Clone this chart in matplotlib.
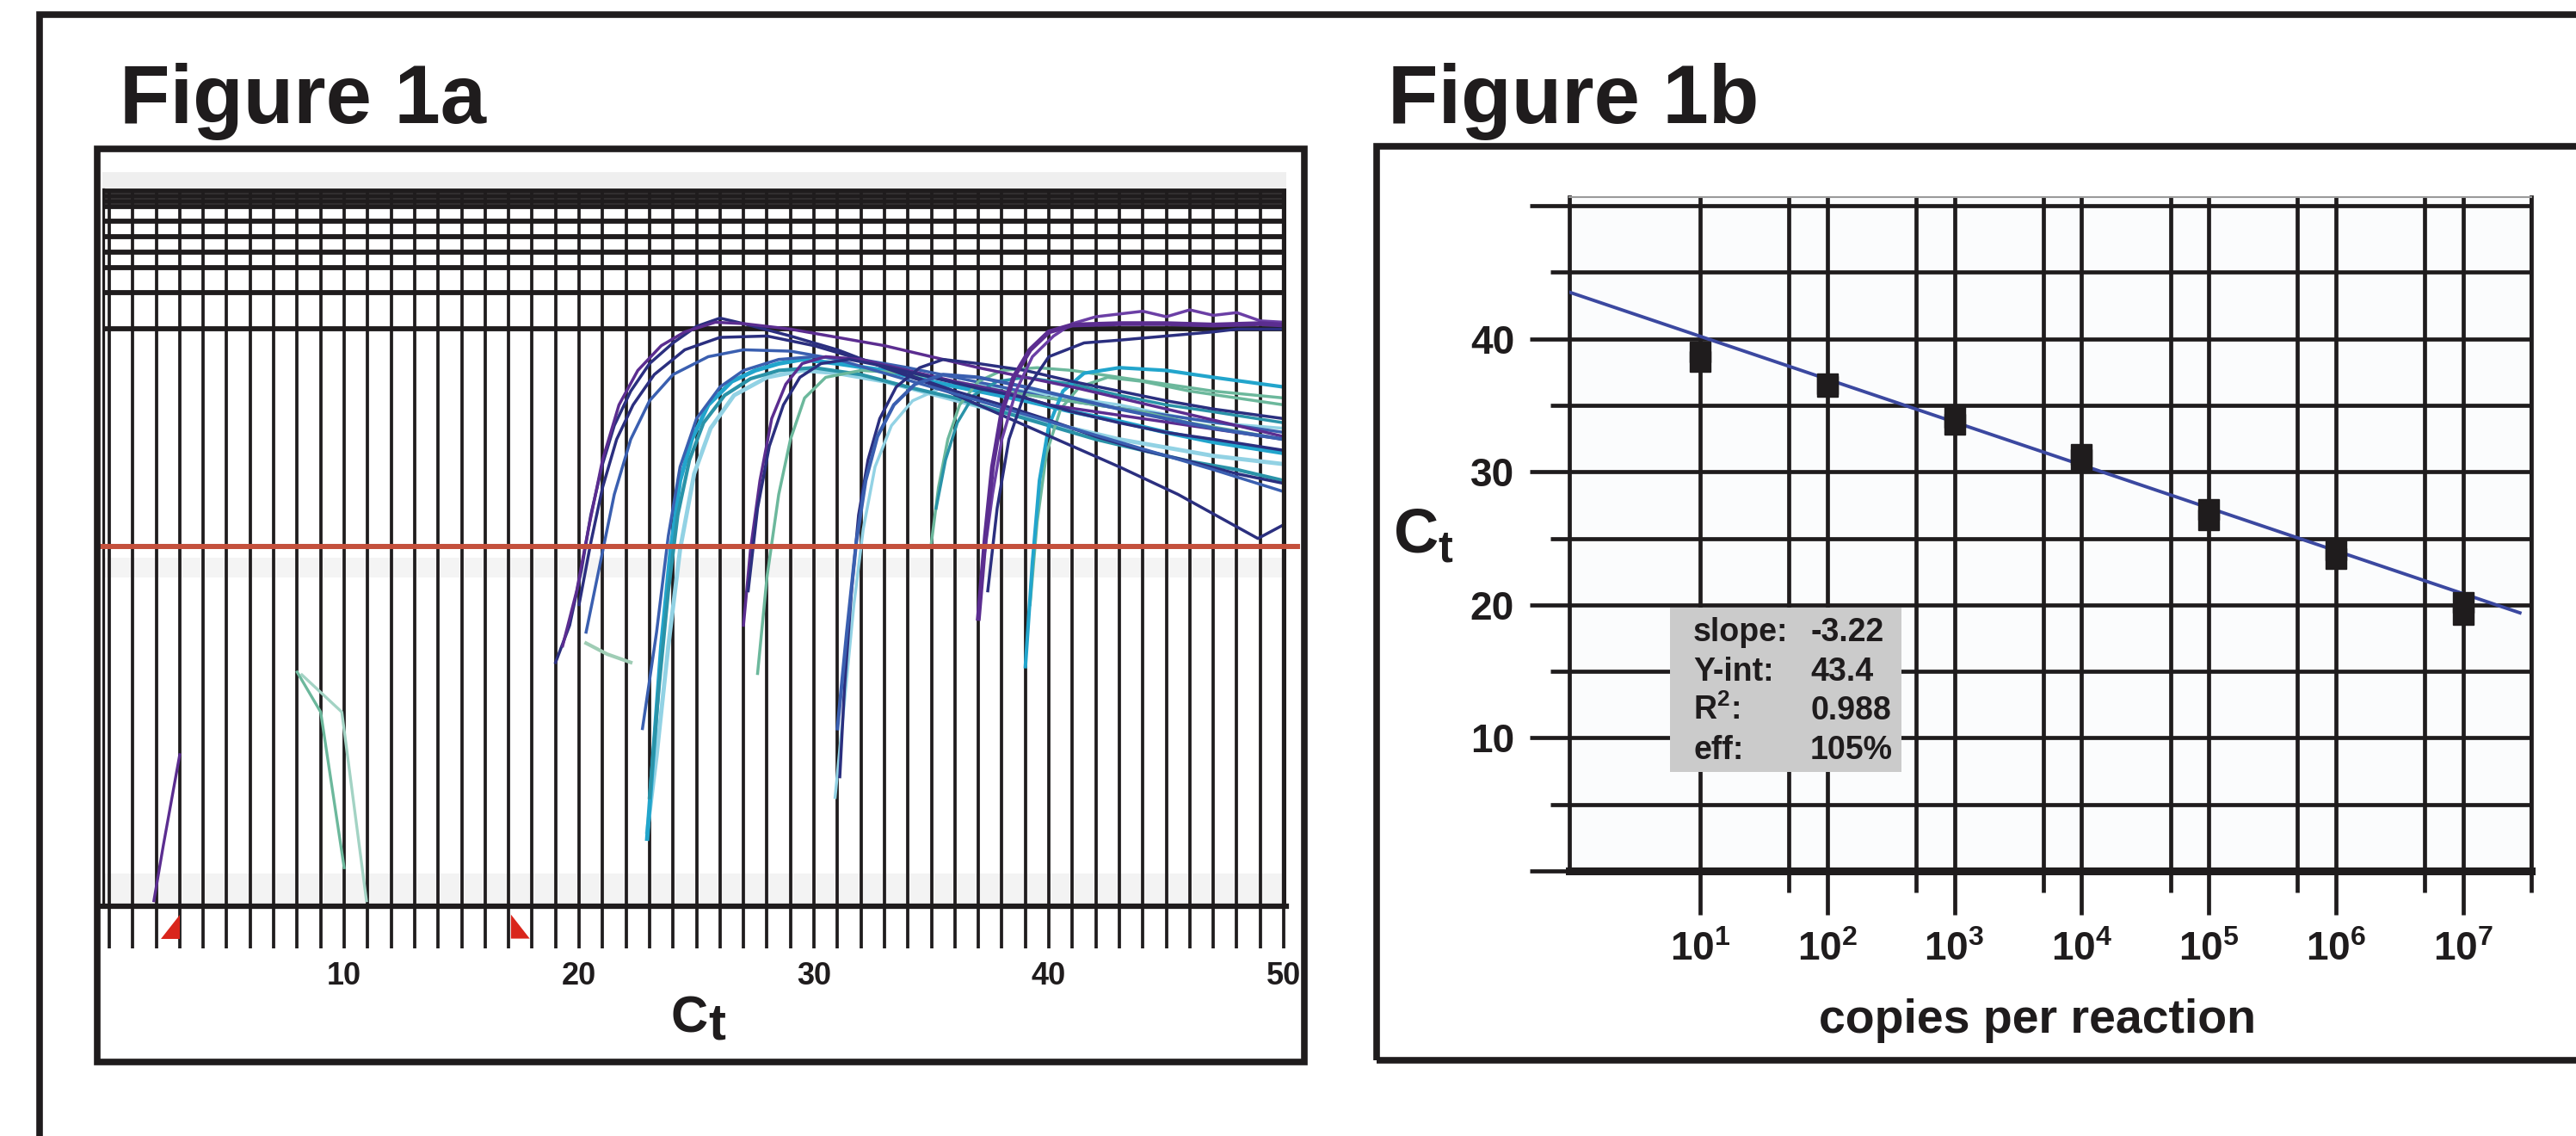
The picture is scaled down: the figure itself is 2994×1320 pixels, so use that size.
#!/usr/bin/env python3
"""
Figure 1: real-time PCR amplification plot (1a) and standard curve (1b).
"""

import matplotlib
matplotlib.use("Agg")
import matplotlib.pyplot as plt
from matplotlib.patches import Rectangle, Polygon
from matplotlib.ticker import FixedLocator, FixedFormatter, NullFormatter

W, H, DPI = 2994, 1320, 100
INK = "#1f1c1d"

plt.rcParams["font.family"] = ["Liberation Sans", "DejaVu Sans"]
plt.rcParams["font.weight"] = "bold"
plt.rcParams["mathtext.fontset"] = "custom"
plt.rcParams["mathtext.rm"] = "Liberation Sans:bold"
plt.rcParams["mathtext.it"] = "Liberation Sans:bold"
plt.rcParams["mathtext.bf"] = "Liberation Sans:bold"
plt.rcParams["mathtext.default"] = "rm"

# ---------------- Figure 1a: cycle vs log10(dRn) ----------------
cycles = list(range(0, 51))
cycle_labels = [10, 20, 30, 40, 50]
rn_grid = [0.0, 0.2625, 0.444, 0.556, 0.669, 0.781, 0.8875, 0.925, 0.9625, 1.0]
rn_threshold = -1.58
baseline_cycles = (3.0, 17.1)

curve_n1 = [(1.9, -4.15), (2.3, -3.75), (3.0, -3.09)]
curve_n2 = [(8.0, -2.49), (9.0, -2.78), (10.0, -3.91)]
curve_n3 = [(8.2, -2.51), (9.9, -2.78), (10.95, -4.15)]

curve_a1 = [(19.0, -2.42), (19.6, -2.15), (20.1, -1.75), (20.5, -1.35), (21.0, -0.98),
            (21.5, -0.7), (22.2, -0.45), (23.0, -0.25), (24.0, -0.1), (25.0, 0.02),
            (26.0, 0.08), (27.0, 0.04), (29.0, -0.05), (31.0, -0.15), (33.0, -0.28),
            (35.0, -0.4), (37.0, -0.55), (39.0, -0.7), (41.0, -0.85), (43.0, -1.0),
            (45.5, -1.2), (48.9, -1.52), (50.0, -1.42)]
curve_a2 = [(19.3, -2.3), (19.9, -1.9), (20.4, -1.45), (21.0, -0.95), (21.7, -0.55),
            (22.5, -0.3), (23.5, -0.12), (24.5, -0.02), (25.8, 0.05), (27.0, 0.04),
            (29.0, 0.0), (31.0, -0.06), (33.0, -0.12), (35.0, -0.2), (37.0, -0.28),
            (39.0, -0.35), (41.0, -0.42), (43.0, -0.5), (45.0, -0.58), (47.0, -0.66),
            (50.0, -0.78)]
curve_a3 = [(20.0, -2.0), (20.5, -1.55), (21.0, -1.15), (21.6, -0.8), (22.3, -0.55),
            (23.2, -0.33), (24.5, -0.15), (26.0, -0.06), (28.0, -0.05), (30.0, -0.12),
            (32.0, -0.22), (34.0, -0.33), (36.0, -0.45), (38.0, -0.55), (40.0, -0.66),
            (42.0, -0.78), (44.0, -0.88), (46.0, -0.96), (48.0, -1.05), (50.0, -1.12)]
curve_a4 = [(20.3, -2.2), (20.9, -1.7), (21.5, -1.2), (22.2, -0.8), (23.0, -0.52),
            (24.0, -0.33), (25.5, -0.2), (27.0, -0.15), (29.0, -0.16), (31.0, -0.22),
            (33.0, -0.32), (35.0, -0.42), (37.0, -0.52), (39.0, -0.62), (41.0, -0.72),
            (43.0, -0.82), (45.0, -0.92), (47.0, -1.02), (50.0, -1.18)]
curve_a5 = [(20.3, -2.28), (21.2, -2.36), (22.2, -2.42)]

curve_b1 = [(22.9, -3.7), (23.2, -3.0), (23.5, -2.3), (23.9, -1.6), (24.3, -1.1),
            (24.8, -0.8), (25.5, -0.55), (26.5, -0.38), (27.5, -0.3), (28.5, -0.25),
            (29.5, -0.22), (31.0, -0.25), (33.0, -0.3), (35.0, -0.38), (37.0, -0.45),
            (39.0, -0.52), (41.0, -0.6), (43.0, -0.67), (45.0, -0.75), (47.0, -0.82),
            (50.0, -0.9)]
curve_b2 = [(23.0, -3.4), (23.4, -2.6), (23.8, -1.9), (24.2, -1.35), (24.7, -0.95),
            (25.3, -0.68), (26.2, -0.48), (27.3, -0.36), (28.5, -0.3), (30.0, -0.28),
            (32.0, -0.33), (34.0, -0.42), (36.0, -0.5), (38.0, -0.6), (40.0, -0.7),
            (42.0, -0.8), (44.0, -0.88), (46.0, -0.96), (48.0, -1.02), (50.0, -1.1)]
curve_b3 = [(22.7, -2.9), (23.3, -2.2), (23.8, -1.5), (24.3, -1.0), (25.0, -0.65),
            (26.0, -0.42), (27.0, -0.3), (28.5, -0.22), (30.0, -0.2), (32.0, -0.22),
            (34.0, -0.28), (36.0, -0.35), (38.0, -0.42), (40.0, -0.5), (42.0, -0.55),
            (44.0, -0.6), (46.0, -0.65), (48.0, -0.7), (50.0, -0.75)]
curve_b4 = [(22.9, -3.65), (23.3, -3.1), (23.8, -2.3), (24.3, -1.6), (24.9, -1.05),
            (25.6, -0.72), (26.6, -0.48), (28.0, -0.35), (29.5, -0.3), (31.0, -0.32),
            (33.0, -0.38), (35.0, -0.47), (37.0, -0.56), (39.0, -0.64), (41.0, -0.72),
            (43.0, -0.8), (45.0, -0.86), (47.0, -0.92), (50.0, -0.98)]

curve_c1 = [(27.0, -2.15), (27.3, -1.6), (27.7, -1.1), (28.2, -0.65), (28.8, -0.4),
            (29.5, -0.25), (30.5, -0.2), (32.0, -0.22), (34.0, -0.3), (36.0, -0.38),
            (38.0, -0.45), (40.0, -0.55), (42.0, -0.6), (44.0, -0.65), (46.0, -0.7),
            (48.0, -0.75), (50.0, -0.8)]
curve_c2 = [(27.2, -1.9), (27.6, -1.3), (28.1, -0.85), (28.7, -0.55), (29.4, -0.35),
            (30.3, -0.25), (31.5, -0.22), (33.0, -0.27), (35.0, -0.35), (37.0, -0.43),
            (39.0, -0.5), (41.0, -0.6), (43.0, -0.68), (45.0, -0.75), (47.0, -0.8),
            (50.0, -0.88)]
curve_c3 = [(27.6, -2.5), (28.0, -1.8), (28.5, -1.2), (29.0, -0.8), (29.6, -0.5),
            (30.5, -0.35), (32.0, -0.3), (34.0, -0.32), (36.0, -0.38), (38.0, -0.45),
            (40.0, -0.5), (42.0, -0.55), (44.0, -0.6), (46.0, -0.68), (48.0, -0.74),
            (50.0, -0.8)]

curve_d1 = [(31.1, -3.25), (31.3, -2.6), (31.6, -1.9), (31.9, -1.35), (32.3, -0.95),
            (32.8, -0.65), (33.5, -0.42), (34.5, -0.28), (35.5, -0.22), (37.0, -0.25),
            (39.0, -0.3), (41.0, -0.38), (43.0, -0.45), (45.0, -0.52), (47.0, -0.58),
            (50.0, -0.65)]
curve_d2 = [(31.0, -2.9), (31.4, -2.2), (31.8, -1.55), (32.2, -1.1), (32.7, -0.78),
            (33.4, -0.55), (34.3, -0.4), (35.5, -0.33), (37.0, -0.35), (39.0, -0.42),
            (41.0, -0.5), (43.0, -0.58), (45.0, -0.65), (47.0, -0.72), (50.0, -0.8)]
curve_d3 = [(30.9, -3.4), (31.3, -2.7), (31.7, -2.0), (32.1, -1.45), (32.6, -1.0),
            (33.3, -0.7), (34.2, -0.52), (35.5, -0.42), (37.0, -0.4), (39.0, -0.45),
            (41.0, -0.5), (43.0, -0.55), (45.0, -0.62), (47.0, -0.68), (50.0, -0.72)]

curve_e1 = [(35.0, -1.55), (35.3, -1.15), (35.7, -0.8), (36.2, -0.55), (37.0, -0.38),
            (38.0, -0.3), (39.5, -0.28), (41.0, -0.3), (43.0, -0.35), (45.0, -0.4),
            (47.0, -0.45), (50.0, -0.5)]
curve_e2 = [(35.2, -1.3), (35.6, -0.95), (36.1, -0.68), (36.8, -0.48), (37.8, -0.38),
            (39.0, -0.35), (41.0, -0.4), (43.0, -0.48), (45.0, -0.55), (47.0, -0.6),
            (50.0, -0.68)]

curve_f1 = [(37.0, -2.1), (37.3, -1.5), (37.6, -1.0), (38.0, -0.6), (38.5, -0.35),
            (39.2, -0.15), (40.0, -0.02), (41.0, 0.03), (43.0, 0.04), (45.0, 0.04),
            (47.0, 0.03), (49.0, 0.04), (50.0, 0.03)]
curve_f2 = [(37.2, -1.7), (37.6, -1.2), (38.0, -0.8), (38.6, -0.45), (39.3, -0.2),
            (40.2, -0.05), (41.0, 0.04), (42.0, 0.09), (43.0, 0.11), (44.0, 0.13),
            (45.0, 0.09), (46.0, 0.14), (47.0, 0.1), (48.0, 0.12), (49.0, 0.06),
            (50.0, 0.05)]
curve_f3 = [(37.4, -1.9), (37.8, -1.3), (38.3, -0.8), (39.0, -0.45), (40.0, -0.2),
            (41.5, -0.1), (43.0, -0.08), (45.0, -0.05), (47.0, -0.02), (48.0, 0.0),
            (50.0, 0.0)]

curve_g1 = [(39.0, -2.45), (39.3, -1.7), (39.6, -1.1), (40.0, -0.7), (40.6, -0.45),
            (41.5, -0.32), (43.0, -0.28), (45.0, -0.3), (47.0, -0.35), (50.0, -0.42)]
curve_g2 = [(39.2, -2.0), (39.5, -1.4), (39.9, -0.9), (40.5, -0.58), (41.3, -0.42),
            (42.5, -0.35), (44.0, -0.38), (46.0, -0.45), (48.0, -0.5), (50.0, -0.55)]

# ---------------- Figure 1b: standard curve ----------------
copies = [1e1, 1e2, 1e3, 1e4, 1e5, 1e6, 1e7]
copy_labels = [r"$10^{1}$", r"$10^{2}$", r"$10^{3}$", r"$10^{4}$",
               r"$10^{5}$", r"$10^{6}$", r"$10^{7}$"]
half_decades = [5e1, 5e2, 5e3, 5e4, 5e5, 5e6]
ct_rep1 = [39.0, 36.6, 34.1, 31.3, 27.2, 24.1, 20.2]
ct_rep2 = [38.3, 36.4, 33.6, 30.9, 26.4, 23.5, 19.3]
fit_copies = [0.94, 2.8e7]
fit_ct = [43.5, 19.4]
ct_major = [0, 10, 20, 30, 40, 50]
ct_minor = [5, 15, 25, 35, 45]
ct_labels = ["", "10", "20", "30", "40", ""]
stat_names = ["slope:", "Y-int:", r"R$^{2}$:", "eff:"]
stat_values = ["-3.22", "43.4", "0.988", "105%"]

NAVY = "#2b2f7f"
PURPLE = "#5b2d90"
BLUE = "#3a5fb0"
CYAN = "#22a5cc"
TEAL = "#2a93a8"
GREEN = "#6cb89c"
PALE = "#92d2e4"


def fx(x):
    return x / W


def fy(y):
    return 1 - y / H


def rect(x0, y0, x1, y1):
    return [fx(x0), fy(y1), fx(x1) - fx(x0), fy(y0) - fy(y1)]


def frame(fig, x0, y0, x1, y1, **kw):
    fig.add_artist(Rectangle((fx(x0), fy(y1)), fx(x1) - fx(x0), fy(y0) - fy(y1),
                             transform=fig.transFigure, fill=False, ec=INK,
                             lw=5.5, **kw))


fig = plt.figure(figsize=(W / DPI, H / DPI), dpi=DPI)
fig.patch.set_facecolor("white")

# frames
frame(fig, 46, 17, 3200, 1500)
frame(fig, 113, 173, 1516, 1234)
frame(fig, 1600, 170, 3200, 1232)

fig.text(fx(139), fy(143), "Figure 1a", fontsize=69, fontweight="bold",
         ha="left", va="baseline", color=INK)
fig.text(fx(1613), fy(143), "Figure 1b", fontsize=69, fontweight="bold",
         ha="left", va="baseline", color=INK)

# ---------------- panel 1a ----------------
ax1 = fig.add_axes(rect(118.8, 200, 1494.8, 1053))
x_lo, x_hi = -0.3, 50.1
y_lo, y_hi = -4.19, 1.14
ax1.set_xlim(x_lo, x_hi)
ax1.set_ylim(y_lo, y_hi)

# scanned-in speckle bands
ax1.axhspan(rn_grid[-1], y_hi, color="#efefef", lw=0, zorder=0)
ax1.axhspan(y_lo, -3.95, color="#f3f3f3", lw=0, zorder=0)
ax1.axhspan(-1.8, -1.66, color="#f4f4f4", lw=0, zorder=0)

ax1.vlines(cycles, y_lo, rn_grid[-1], color=INK, lw=2.7, zorder=1)
ax1.hlines(rn_grid, x_lo, x_hi, color=INK, lw=4.2, zorder=1)

curves_1a = [
    (curve_n1, PURPLE, 2.4), (curve_n2, GREEN, 2.4), (curve_n3, "#a3d3c4", 2.4),
    (curve_a5, "#9fcdb5", 3.0),
    (curve_b4, PALE, 3.5), (curve_d3, PALE, 2.5),
    (curve_b1, CYAN, 3.6), (curve_b2, TEAL, 3.0), (curve_b3, BLUE, 2.5),
    (curve_c3, GREEN, 2.5), (curve_e1, GREEN, 2.5), (curve_g2, GREEN, 2.5),
    (curve_e2, TEAL, 2.5), (curve_g1, CYAN, 3.0),
    (curve_a1, NAVY, 2.5), (curve_a2, PURPLE, 2.5), (curve_a3, NAVY, 2.5),
    (curve_a4, BLUE, 2.5),
    (curve_c1, PURPLE, 2.5), (curve_c2, NAVY, 2.5),
    (curve_d1, NAVY, 2.5), (curve_d2, BLUE, 3.0),
    (curve_f3, NAVY, 2.5), (curve_f2, "#6b3fa5", 2.5), (curve_f1, PURPLE, 4.0),
]
for pts, color, lw in curves_1a:
    xs = [p[0] for p in pts]
    ys = [p[1] for p in pts]
    ax1.plot(xs, ys, color=color, lw=lw, solid_joinstyle="round", zorder=2)

ax1.plot([x_lo, 50.6], [rn_threshold, rn_threshold], color="#c4503c", lw=4.3,
         clip_on=False, zorder=5)

# baseline start / end markers below the axis
c0, c1 = baseline_cycles
tri_top, tri_bot = -4.25, -4.425
for verts in ([(c0 - 0.8, tri_bot), (c0, tri_bot), (c0, tri_top)],
              [(c1, tri_bot), (c1 + 0.8, tri_bot), (c1, tri_top)]):
    ax1.add_patch(Polygon(verts, closed=True, fc="#d9261c", ec="none",
                          clip_on=False, zorder=5))

for side in ("top", "left", "right"):
    ax1.spines[side].set_visible(False)
ax1.spines["bottom"].set_linewidth(4.5)
ax1.spines["bottom"].set_color(INK)
ax1.plot([x_lo, x_lo], [y_lo, rn_grid[-1]], color=INK, lw=4.5, zorder=3)
ax1.plot([50.0, 50.0], [y_lo, rn_grid[-1]], color=INK, lw=3.8, zorder=3)

ax1.set_xticks(cycles)
ax1.set_xticklabels([str(c) if c in cycle_labels else "" for c in cycles])
ax1.set_yticks([])
ax1.tick_params(axis="x", length=35, width=2.7, color=INK, labelsize=26,
                pad=11, labelcolor=INK)
ax1.set_facecolor("white")

fig.text(fx(823), fy(1200), "C", fontsize=43, ha="right", va="baseline", color=INK)
fig.text(fx(823), fy(1207), "t", fontsize=43, ha="left", va="baseline", color=INK)

# ---------------- panel 1b ----------------
ax2 = fig.add_axes(rect(1824, 229, 2942, 1012))
ax2.set_xscale("log")
ax2.set_xlim(0.938, 3.44e7)
ax2.set_ylim(0, 50.65)
ax2.set_facecolor("#fbfcfd")

ax2.xaxis.set_major_locator(FixedLocator(copies))
ax2.xaxis.set_major_formatter(FixedFormatter(copy_labels))
ax2.xaxis.set_minor_locator(FixedLocator(half_decades + [3.44e7]))
ax2.xaxis.set_minor_formatter(NullFormatter())
ax2.yaxis.set_major_locator(FixedLocator(ct_major))
ax2.yaxis.set_major_formatter(FixedFormatter(ct_labels))
ax2.yaxis.set_minor_locator(FixedLocator(ct_minor))
ax2.yaxis.set_minor_formatter(NullFormatter())

ax2.grid(which="both", color=INK, lw=3.4, zorder=1)
ax2.set_axisbelow(True)
ax2.tick_params(axis="x", which="major", length=36.7, width=3.4, color=INK,
                labelsize=33, pad=14, labelcolor=INK)
ax2.tick_params(axis="x", which="minor", length=18, width=3.4, color=INK)
ax2.tick_params(axis="y", which="major", length=33, width=3.4, color=INK,
                labelsize=33, pad=13, labelcolor=INK)
ax2.tick_params(axis="y", which="minor", length=16, width=3.4, color=INK)

for side in ("left", "right"):
    ax2.spines[side].set_linewidth(3.4)
    ax2.spines[side].set_color(INK)
ax2.spines["bottom"].set_linewidth(6.5)
ax2.spines["bottom"].set_color(INK)
ax2.spines["top"].set_linewidth(1.5)
ax2.spines["top"].set_color("#9a9a9a")

ax2.plot(fit_copies, fit_ct, color="#3b48a0", lw=2.8, zorder=4)
ax2.plot(copies, ct_rep1, "s", ms=17, color=INK, zorder=5)
ax2.plot(copies, ct_rep2, "s", ms=17, color=INK, zorder=5)

fig.text(fx(1655), fy(623), r"$C_t$", fontsize=52, ha="center", va="center",
         color=INK)
fig.text(fx(2368), fy(1186), "copies per reaction", fontsize=40,
         ha="center", va="center", color=INK)

# regression summary box
fig.add_artist(Rectangle((fx(1941), fy(897)), fx(2210) - fx(1941), fy(706) - fy(897),
                         transform=fig.transFigure, fc="#cbcbcb", ec="none",
                         zorder=2))
for i, (name, val) in enumerate(zip(stat_names, stat_values)):
    base = 745 + 45.7 * i
    fig.text(fx(1968), fy(base), name, fontsize=27, ha="left", va="baseline",
             color=INK, zorder=3)
    fig.text(fx(2104), fy(base), val, fontsize=27, ha="left", va="baseline",
             color=INK, zorder=3)

fig.savefig("out.png", dpi=DPI)
plt.close(fig)
